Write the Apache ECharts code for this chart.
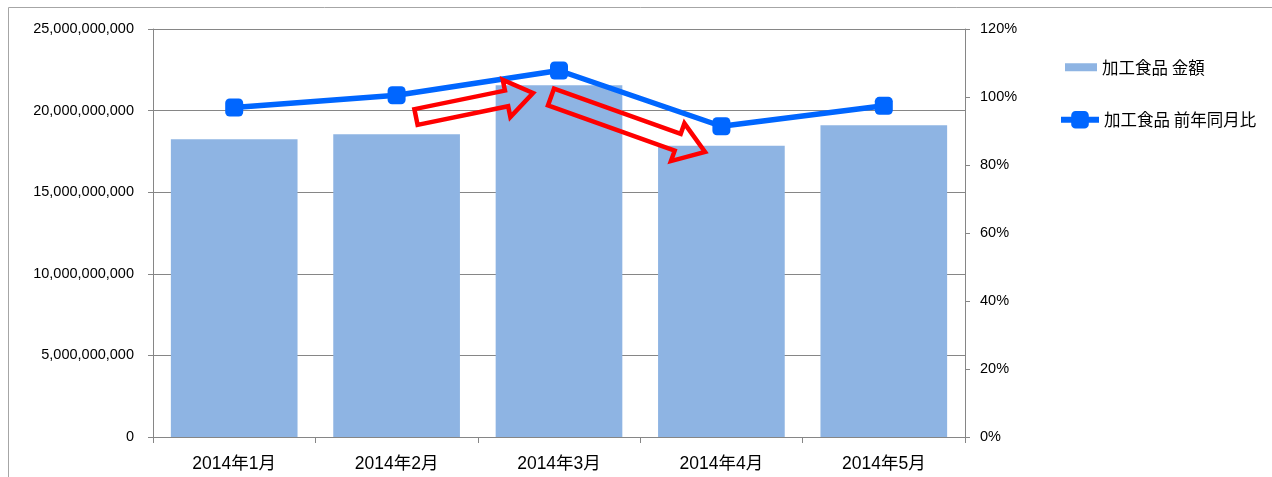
<!DOCTYPE html>
<html>
<head>
    <meta charset="UTF-8">
    <title>加工食品</title>
    <script src="https://cdn.jsdelivr.net/npm/echarts@6/dist/echarts.min.js"></script>
    <style>
        body, html {
            margin: 0;
            padding: 0;
            background: #fff;
        }
        #main {
            width: 1272px;
            height: 477px;
        }
    </style>
</head>
<body>
<div id="main"></div>
<script>
    // data
    var months = ['2014年1月', '2014年2月', '2014年3月', '2014年4月', '2014年5月'];
    var amount = [18250000000, 18550000000, 21550000000, 17850000000, 19100000000];
    var yoy = [96.9, 100.5, 107.8, 91.4, 97.4];

    var font = '"Liberation Sans", "Noto Sans CJK JP", sans-serif';
    var cjk = '"Noto Sans CJK JP", sans-serif';

    // hollow arrow outline from (x1,y1) to tip (x2,y2)
    function arrow(x1, y1, x2, y2, sh, hh, hl) {
        var dx = x2 - x1, dy = y2 - y1;
        var len = Math.sqrt(dx * dx + dy * dy);
        var ux = dx / len, uy = dy / len;
        var nx = -uy, ny = ux;
        var bx = x2 - ux * hl, by = y2 - uy * hl;
        return [
            [x1 + nx * sh, y1 + ny * sh],
            [bx + nx * sh, by + ny * sh],
            [bx + nx * hh, by + ny * hh],
            [x2, y2],
            [bx - nx * hh, by - ny * hh],
            [bx - nx * sh, by - ny * sh],
            [x1 - nx * sh, y1 - ny * sh]
        ];
    }

    var chart = echarts.init(document.getElementById('main'), null, {renderer: 'canvas'});

    var option = {
        animation: false,
        grid: {left: 153, right: 307, top: 29, bottom: 40},
        legend: [{
            left: 1060,
            top: 54,
            itemWidth: 32,
            itemHeight: 8,
            icon: 'rect',
            textStyle: {fontFamily: cjk, fontSize: 16.5, color: '#000'},
            data: ['加工食品 金額']
        }, {
            left: 1053,
            top: 106,
            itemWidth: 38,
            itemHeight: 22,
            lineStyle: {width: 6},
            textStyle: {fontFamily: cjk, fontSize: 16.5, color: '#000'},
            data: ['加工食品 前年同月比']
        }],
        xAxis: {
            type: 'category',
            data: months,
            axisLine: {lineStyle: {color: '#868686'}},
            axisTick: {show: true, length: 6, lineStyle: {color: '#868686'}},
            axisLabel: {fontFamily: font, fontSize: 17.5, color: '#000', margin: 18}
        },
        yAxis: [{
            type: 'value',
            min: 0,
            max: 25000000000,
            interval: 5000000000,
            axisLine: {show: true, lineStyle: {color: '#868686'}},
            axisTick: {show: true, length: 5, lineStyle: {color: '#868686'}},
            splitLine: {lineStyle: {color: '#868686'}},
            axisLabel: {
                fontFamily: font,
                fontSize: 14.5,
                color: '#000',
                margin: 19,
                formatter: function (v) { return v.toLocaleString('en-US'); }
            }
        }, {
            type: 'value',
            min: 0,
            max: 120,
            interval: 20,
            position: 'right',
            axisLine: {show: true, lineStyle: {color: '#868686'}},
            axisTick: {show: true, length: 5, lineStyle: {color: '#868686'}},
            splitLine: {show: false},
            axisLabel: {
                fontFamily: font,
                fontSize: 14.5,
                color: '#000',
                margin: 15,
                formatter: '{value}%'
            }
        }],
        series: [{
            name: '加工食品 金額',
            type: 'bar',
            data: amount,
            barCategoryGap: '22%',
            itemStyle: {color: '#8EB4E3'}
        }, {
            name: '加工食品 前年同月比',
            type: 'line',
            yAxisIndex: 1,
            data: yoy,
            symbol: 'roundRect',
            symbolSize: 18,
            lineStyle: {color: '#0066FF', width: 5.5},
            itemStyle: {color: '#0066FF'}
        }],
        graphic: [{
            type: 'rect',
            silent: true,
            shape: {x: 8.5, y: 7.5, width: 1300, height: 500},
            style: {fill: 'none', stroke: '#A6A6A6', lineWidth: 1}
        }, {
            type: 'polygon',
            silent: true,
            z: 100,
            shape: {points: arrow(416, 117, 533, 93, 8, 19, 27)},
            style: {fill: 'none', stroke: '#FF0000', lineWidth: 4.5}
        }, {
            type: 'polygon',
            silent: true,
            z: 100,
            shape: {points: arrow(551, 97, 705, 152, 9, 20, 29)},
            style: {fill: 'none', stroke: '#FF0000', lineWidth: 4.5}
        }]
    };

    chart.setOption(option);
</script>
</body>
</html>
